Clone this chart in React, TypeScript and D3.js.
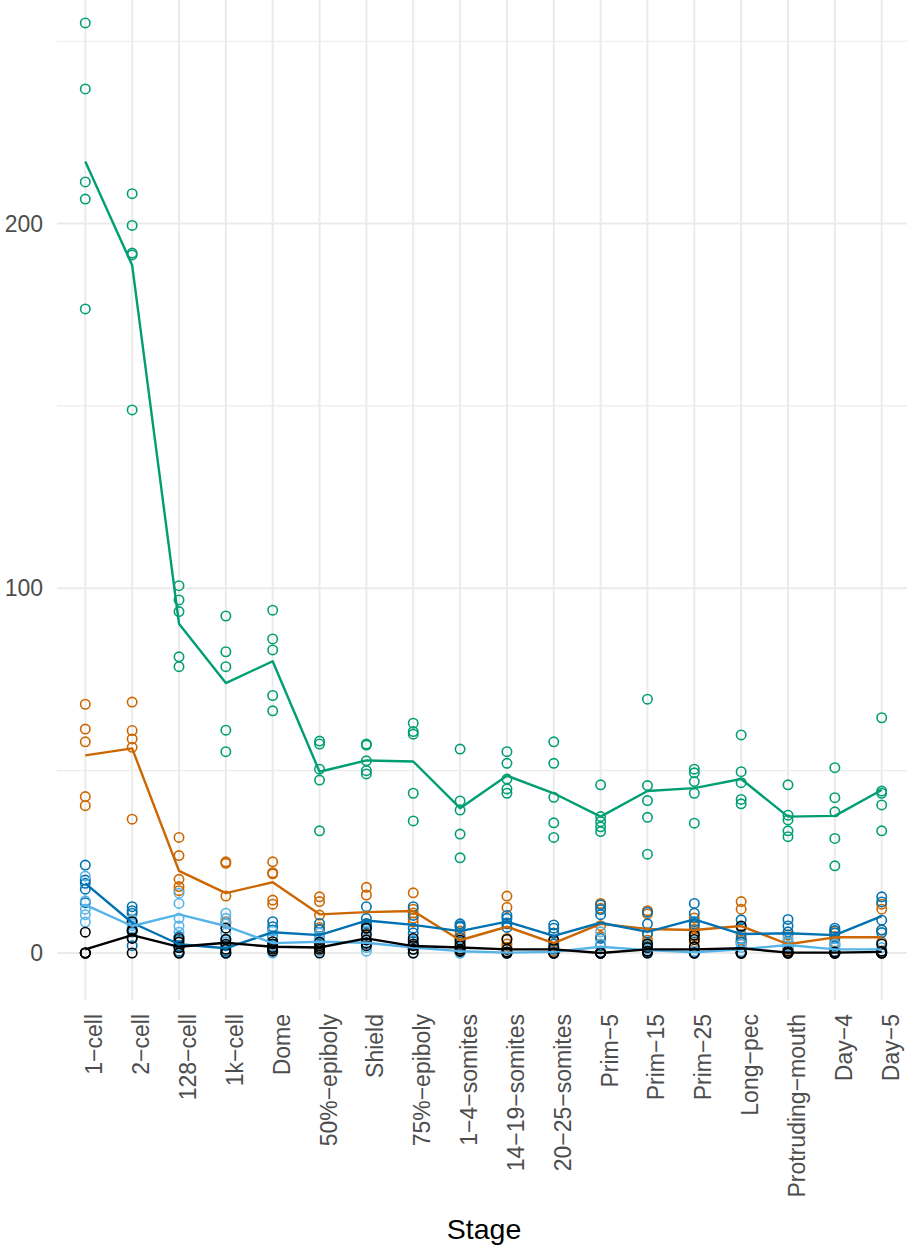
import React from "react";
import * as d3 from "d3";

const stages = [
  "1−cell", "2−cell", "128−cell", "1k−cell", "Dome", "50%−epiboly", "Shield",
  "75%−epiboly", "1−4−somites", "14−19−somites", "20−25−somites", "Prim−5",
  "Prim−15", "Prim−25", "Long−pec", "Protruding−mouth", "Day−4", "Day−5",
];

const yTicks = [0, 100, 200];
const yMinor = [50, 150, 250];

const tealPoints = [
  [255.0, 236.9, 211.4, 206.7, 176.6], [208.2, 199.5, 191.9, 191.4, 148.9],
  [100.7, 96.8, 93.6, 81.2, 78.5], [92.4, 82.6, 78.5, 61.1, 55.2],
  [94.0, 86.1, 83.1, 70.6, 66.4], [58.1, 57.3, 50.4, 47.4, 33.5],
  [57.3, 57.0, 52.7, 50.0, 49.1], [63.0, 60.7, 60.0, 43.8, 36.2],
  [55.9, 41.7, 39.2, 32.6, 26.1], [55.2, 52.0, 47.7, 45.0, 43.8],
  [57.9, 52.0, 42.7, 35.7, 31.7], [46.1, 37.4, 36.0, 34.6, 33.3],
  [69.6, 45.9, 41.8, 37.2, 27.1], [50.4, 49.4, 47.0, 43.8, 35.6],
  [59.8, 49.7, 46.7, 42.1, 40.9], [46.1, 37.8, 36.5, 33.5, 31.9],
  [50.8, 42.6, 38.7, 31.4, 23.9], [64.5, 44.4, 43.8, 40.6, 33.5],
];
const tealMean = [217, 188.6, 90.3, 74.0, 80.0, 49.7, 52.8, 52.5, 39.7, 48.6, 43.8, 37.4, 44.4, 45.2, 47.7, 37.4, 37.6, 44.7];

const orangePoints = [
  [68.2, 61.4, 57.9, 42.9, 40.4], [68.8, 61.0, 58.7, 56.4, 36.7],
  [31.7, 26.7, 20.2, 18.2, 17.1], [25.0, 24.6, 15.6, 8.6, 8.2],
  [25.0, 22.0, 21.7, 14.5, 13.4], [15.4, 14.1, 10.4, 7.0, 6.3],
  [18.0, 15.9, 8.0, 7.2, 6.9], [16.5, 12.0, 11.0, 9.5, 8.5],
  [6.0, 5.0, 4.0, 2.5, 1.0], [15.6, 12.5, 4.0, 2.5, 1.5],
  [5.5, 3.5, 2.5, 1.5, 0.5], [13.6, 12.3, 7.5, 4.5, 2.0],
  [11.6, 10.7, 5.0, 3.5, 2.2], [9.6, 8.0, 6.5, 4.5, 3.0],
  [14.1, 12.0, 5.0, 3.5, 2.4], [5.0, 3.0, 2.0, 1.0, 1.0],
  [6.0, 5.5, 4.5, 3.0, 2.5], [13.4, 12.0, 6.3, 3.0, 0.5],
];
const orangeMean = [54.2, 56.1, 22.5, 16.4, 19.4, 10.6, 11.2, 11.5, 3.5, 7.2, 2.7, 8.0, 6.6, 6.3, 7.4, 2.4, 4.3, 4.3];

const bluePoints = [
  [24.1, 20.0, 19.1, 17.5, 13.8], [12.7, 11.6, 10.9, 4.2, 2.0],
  [4.5, 3.5, 2.0, 1.5, 0.5], [3.8, 2.0, 0.5, 0, 0],
  [8.6, 7.2, 6.3, 4.6, 1.8], [8.1, 6.5, 4.5, 3.0, 2.5],
  [12.7, 9.5, 8.1, 7.5, 6.7], [12.7, 10.3, 6.8, 5.5, 3.2],
  [8.0, 7.5, 7.1, 4.3, 3.0], [10.3, 9.5, 8.2, 8.0, 7.0],
  [7.7, 6.8, 5.4, 2.5, 1.0], [13.2, 11.9, 10.5, 4.0, 2.0],
  [11.2, 8.0, 5.5, 2.5, 1.8], [13.6, 10.9, 8.6, 7.5, 5.5],
  [9.1, 7.0, 4.0, 3.0, 3.0], [9.2, 7.4, 5.8, 3.0, 1.6],
  [6.8, 6.2, 5.5, 4.0, 2.0], [15.4, 14.0, 9.0, 6.3, 5.6],
];
const blueMean = [19.1, 8.3, 2.4, 1.3, 5.7, 4.9, 8.9, 7.7, 6.0, 8.6, 4.7, 8.3, 5.8, 9.2, 5.2, 5.4, 4.9, 10.1];

const skyPoints = [
  [21.1, 14.3, 12.0, 10.5, 8.5], [9.0, 8.0, 7.5, 6.8, 5.7],
  [16.4, 13.6, 9.5, 7.4, 5.7], [10.9, 9.5, 8.0, 5.5, 3.0],
  [6.0, 4.0, 2.0, 0.5, 0.0], [5.5, 4.5, 3.0, 2.0, 0.5],
  [6.0, 3.5, 2.5, 1.5, 0.5], [3.5, 2.0, 1.0, 1.0, 0],
  [1.5, 0.5, 0.3, 0, 0], [0.3, 0, 0, 0, 0],
  [1.5, 0, 0, 0, 0], [5.8, 2.5, 0.3, 0, 0],
  [2.4, 1.0, 0.5, 0, 0], [0.5, 0.2, 0, 0, 0],
  [2.5, 1.5, 0.5, 0.5, 0], [4.0, 3.0, 2.0, 1.5, 0.5],
  [2.4, 1.5, 0.5, 0.5, 0], [2.5, 1.5, 0.5, 0.5, 0],
];
const skyMean = [13.2, 7.4, 10.6, 7.4, 2.7, 3.1, 2.8, 1.5, 0.5, 0.1, 0.3, 1.7, 0.8, 0.2, 1.0, 2.2, 1.0, 1.0];

const blackPoints = [
  [5.7, 0, 0, 0, 0], [8.6, 6.3, 6.0, 4.0, 0],
  [4.0, 3.0, 1.5, 0, 0], [6.8, 3.7, 2.4, 1.0, 0],
  [3.1, 2.5, 1.5, 1.0, 0.5], [3.0, 2.0, 1.5, 1.0, 0],
  [6.8, 5.0, 3.6, 2.7, 2.0], [4.0, 2.5, 2.0, 1.0, 0],
  [3.5, 2.0, 1.0, 0.5, 0.5], [3.7, 1.0, 0.3, 0, 0],
  [3.5, 1.5, 0, 0, 0], [0, 0, 0, 0, 0],
  [2.5, 1.5, 0.5, 0.5, 0], [4.9, 3.7, 1.7, 0, 0],
  [7.4, 0, 0, 0, 0], [0.5, 0, 0, 0, 0],
  [0.3, 0, 0, 0, 0], [2.5, 0.5, 0, 0, 0],
];
const blackMean = [1.0, 4.9, 1.7, 2.8, 1.7, 1.5, 4.0, 1.9, 1.5, 1.0, 1.0, 0.0, 1.0, 1.0, 1.3, 0.1, 0.1, 0.3];

const series = [
  { color: "#009E73", points: tealPoints, mean: tealMean },
  { color: "#CC6600", points: orangePoints, mean: orangeMean },
  { color: "#0072B2", points: bluePoints, mean: blueMean },
  { color: "#56B4E9", points: skyPoints, mean: skyMean },
  { color: "#000000", points: blackPoints, mean: blackMean },
];

const W = 907;
const H = 1246;
const panel = { left: 57, right: 907, top: 0, bottom: 1000 };
const FONT = "'Liberation Sans', Arial, Helvetica, sans-serif";

export default function App() {
  const x = d3.scalePoint<string>().domain(stages).range([85.3, 881.7]);
  const y = d3.scaleLinear().domain([0, 250]).range([953, 41.2]);
  const line = d3
    .line<number>()
    .x((_, i) => x(stages[i]) as number)
    .y((d) => y(d));

  return (
    <svg
      width={W}
      height={H}
      style={{ position: "absolute", left: 0, top: 0, background: "#fff" }}
      fontFamily={FONT}
    >
      <rect x={0} y={0} width={W} height={H} fill="#fff" />
      {yMinor.map((v) => (
        <line key={"mn" + v} x1={panel.left} x2={panel.right} y1={y(v)} y2={y(v)} stroke="#EBEBEB" strokeWidth={1.1} />
      ))}
      {yTicks.map((v) => (
        <line key={"mj" + v} x1={panel.left} x2={panel.right} y1={y(v)} y2={y(v)} stroke="#EBEBEB" strokeWidth={2} />
      ))}
      {stages.map((s) => (
        <line key={"v" + s} x1={x(s)} x2={x(s)} y1={panel.top} y2={panel.bottom} stroke="#EBEBEB" strokeWidth={2} />
      ))}
      {series.map((ser, si) => (
        <g key={"p" + si}>
          {ser.points.map((arr, i) =>
            arr.map((v, j) => (
              <circle
                key={i + "-" + j}
                cx={x(stages[i])}
                cy={y(v)}
                r={4.7}
                fill="none"
                stroke={ser.color}
                strokeWidth={1.6}
              />
            ))
          )}
        </g>
      ))}
      {series.map((ser, si) => (
        <path key={"l" + si} d={line(ser.mean) || ""} fill="none" stroke={ser.color} strokeWidth={2.4} strokeLinejoin="round" />
      ))}
      {yTicks.map((v) => (
        <text key={"yt" + v} x={43} y={y(v)} dy="0.35em" textAnchor="end" fontSize={23} fill="#4D4D4D">
          {v}
        </text>
      ))}
      {stages.map((s) => (
        <text
          key={"xt" + s}
          transform={`translate(${(x(s) as number) + 17},1014) rotate(-90)`}
          textAnchor="end"
          fontSize={23}
          fill="#4D4D4D"
        >
          {s}
        </text>
      ))}
      <text x={484} y={1239} textAnchor="middle" fontSize={28.5} fill="#000">
        Stage
      </text>
    </svg>
  );
}
